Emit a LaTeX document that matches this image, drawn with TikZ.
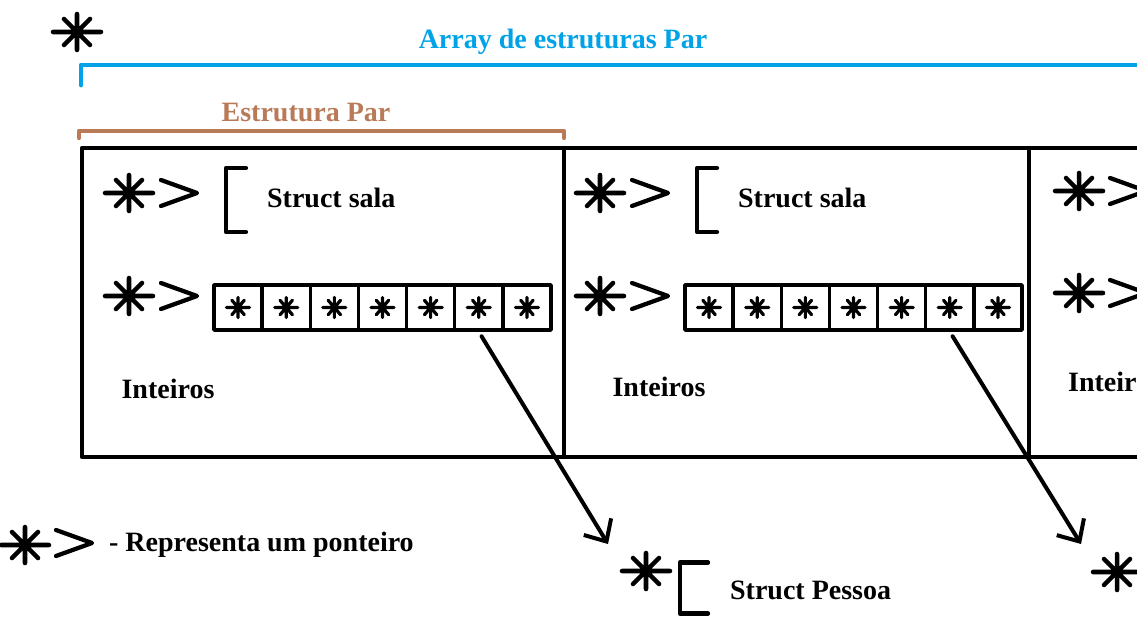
\documentclass[tikz,border=0pt]{standalone}
\usepackage{fontspec}
\setmainfont{Liberation Serif}
\usetikzlibrary{arrows.meta,positioning}
\definecolor{paintblue}{RGB}{0,162,232}
\definecolor{paintbrown}{RGB}{185,122,87}
\tikzset{
  pics/star/.style={code={
    \draw (-24,0) -- (24,0) (0,-18) -- (0,18) (-13,-13) -- (13,13) (-13,13) -- (13,-13);
  }},
  pics/chevron/.style={code={
    \draw (-18,-13) -- (18,0) -- (-18,13);
  }},
  pics/bracket/.style={code={
    \draw (20,-32) -- (0,-32) -- (0,32) -- (20,32);
  }},
  bigstar/.style={line width=3.4pt},
  smallstar/.style={xscale=0.48,yscale=0.56,line width=2.4pt},
  lbl/.style={font=\fontsize{21}{25}\selectfont\bfseries,inner sep=0pt},
  cell/.style={draw,line width=2.6pt,minimum width=36.1pt,minimum height=33.75pt,inner sep=0pt},
  ptrarrow/.style={line width=3pt,line cap=round,-{Straight Barb[length=13pt,width=24pt]},shorten <=4pt}
}
\begin{document}
\begin{tikzpicture}[x=0.75pt,y=-0.75pt,line width=3.2pt,line cap=round,line join=round]
  \useasboundingbox (0,0) rectangle (1137,624);
  % pointer to the whole array
  \pic[bigstar] at (77,32) {star};
  \draw[paintblue,line width=3.6pt] (81,85) -- (81,65) -- (1140,65);
  \node[lbl,text=paintblue] (arraylbl) at (563,42) {Array de estruturas Par};
  \draw[paintbrown] (79,138) -- (79,131) -- (564,131) -- (564,138);
  \node[lbl,text=paintbrown] (parlbl) at (306,113) {Estrutura Par};
  % the cells
  \draw[line cap=butt] (1140,148) -- (82,148) -- (82,457) -- (1140,457);
  \draw (564,148) -- (564,457) (1029,148) -- (1029,457);
  \foreach \i/\dx/\ix/\iy in {1/0/168/389,2/471/659/387}{
    \pic[bigstar] at (129+\dx,193) {star};
    \pic at (179+\dx,193) {chevron};
    \pic at (226+\dx,200) {bracket};
    \node[lbl,anchor=west] (sala\i) at (265+\dx,198) {Struct sala};
    \pic[bigstar] at (129+\dx,296) {star};
    \pic at (179+\dx,296) {chevron};
    \foreach \j in {1,...,7}{
      \node[cell] (a\i-\j) at ({214+\dx+24.07+(\j-1)*48.14},307.5) {};
      \pic[smallstar] at (a\i-\j) {star};
    }
    \node[lbl] (int\i) at (\ix,\iy) {Inteiros};
  }
  \pic[bigstar] at (1079,191) {star};
  \pic at (1128,191) {chevron};
  \pic[bigstar] at (1079,293) {star};
  \pic at (1128,293) {chevron};
  \node[lbl,anchor=west] (int3) at (1066,382) {Inteiros};
  % pointers to Struct Pessoa
  \coordinate (p1) at (608,544);
  \coordinate (p2) at (1081,544);
  \draw[ptrarrow] (a1-6.south) -- (p1);
  \draw[ptrarrow] (a2-6.south) -- (p2);
  \pic[bigstar] at (646,571) {star};
  \pic[xscale=1.4,yscale=0.8] at (680,588) {bracket};
  \node[lbl,anchor=west] (pessoa) at (728,590) {Struct Pessoa};
  \pic[bigstar] at (1117,572) {star};
  % legend
  \pic[bigstar] at (25,545) {star};
  \pic at (74,543) {chevron};
  \node[lbl,anchor=west] (legend) at (107,545) {- Representa um ponteiro};
\end{tikzpicture}
\end{document}
